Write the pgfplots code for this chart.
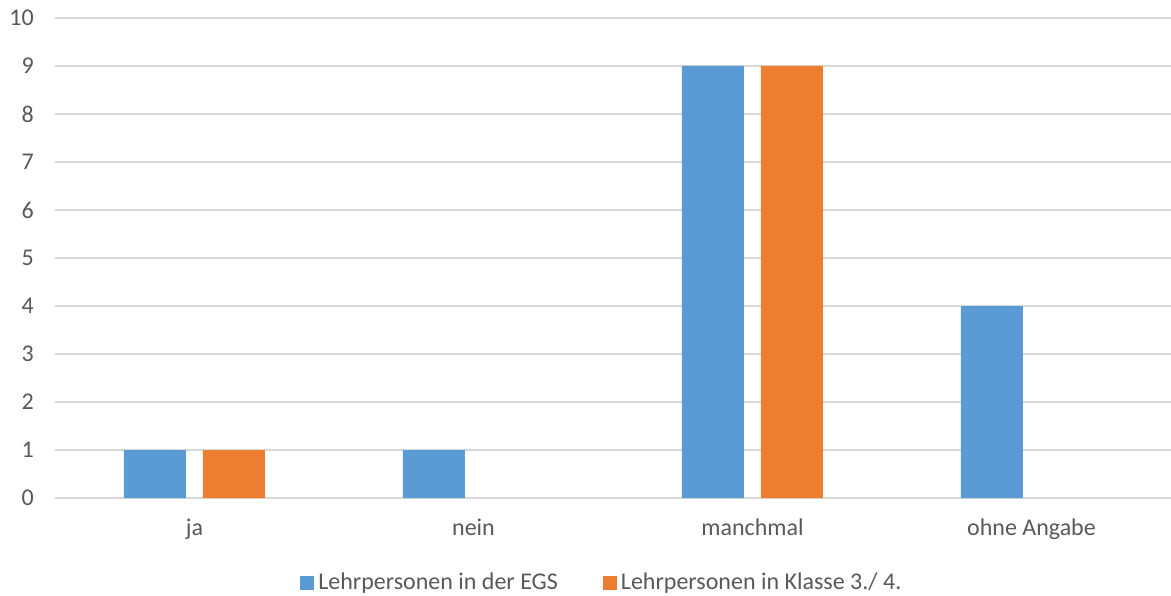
\documentclass[border=0pt]{standalone}
\usepackage{fontspec}
\setmainfont{Carlito}
\usepackage{pgfplots}
\pgfplotsset{compat=1.18}
\definecolor{sblue}{HTML}{5B9BD5}
\definecolor{sorange}{HTML}{ED7D31}
\definecolor{gridc}{HTML}{D9D9D9}
\definecolor{txt}{HTML}{595959}
\begin{document}
\fontsize{24pt}{28pt}\selectfont
\begin{tikzpicture}
\path[use as bounding box] (-55pt,-97pt) rectangle (1116pt,498pt);
\begin{axis}[
  at={(0,0)}, anchor=south west,
  scale only axis, width=1116pt, height=480pt,
  ybar=17pt, bar width=62pt,
  xmin=-0.5, xmax=3.5, ymin=0, ymax=10,
  xtick={0,1,2,3}, xticklabels={ja,nein,manchmal,ohne Angabe},
  ytick={0,1,...,10},
  ymajorgrids, grid style={gridc, line width=1.5pt},
  axis line style={draw=none},
  major tick length=0pt,
  tick label style={font=\fontsize{24pt}{28pt}\selectfont, text=txt},
  /pgf/number format/assume math mode=true,
  yticklabel style={xshift=-13pt},
  xticklabel style={yshift=-13pt},
  legend columns=2,
  legend style={at={(0.49,-0.177)}, anchor=center, draw=none, font=\fontsize{24pt}{28pt}\selectfont, text=txt,
    /tikz/every odd column/.append style={column sep=2pt},
    /tikz/every even column/.append style={column sep=43pt}, nodes={inner sep=2pt}},
  legend image code/.code={\fill[#1] (0pt,-7pt) rectangle (14pt,7pt);},
]
\addplot[fill=sblue, draw=none] coordinates {(0,1) (1,1) (2,9) (3,4)};
\addplot[fill=sorange, draw=none] coordinates {(0,1) (2,9)};
\legend{Lehrpersonen in der EGS, Lehrpersonen in Klasse 3./ 4.}
\end{axis}
\end{tikzpicture}
\end{document}
